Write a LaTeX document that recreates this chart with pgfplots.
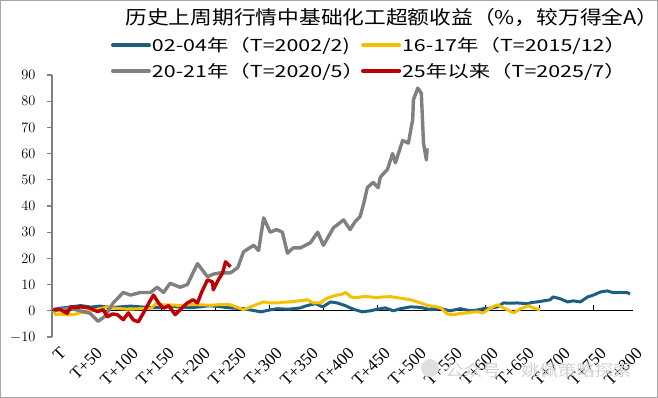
\documentclass[border=0pt]{standalone}
\usepackage{pgfplots}
\pgfplotsset{compat=1.18}
\usepackage{fontspec}
\setmainfont{Liberation Sans}[FakeStretch=1.15]
\newfontfamily\cjk{Noto Sans CJK SC}[FakeStretch=1.15]
\newfontfamily\cjkleg{Noto Sans CJK SC}[FakeStretch=1.3]
\newfontfamily\serif{Liberation Serif}
\definecolor{cblue}{RGB}{28,95,128}
\definecolor{cyellow}{RGB}{246,192,0}
\definecolor{cgray}{RGB}{128,128,128}
\definecolor{cred}{RGB}{192,0,0}
\begin{document}
\begin{tikzpicture}[x=1pt,y=1pt]
\begin{axis}[at={(52pt,61pt)}, anchor=south west, scale only axis,
  width=581pt, height=262pt,
  xmin=-2, xmax=805, ymin=-10, ymax=90,
  axis y line*=left, axis x line*=bottom,
  x axis line style={draw=none},
  y axis line style={cgray, line width=1.3pt, -},
  ytick={-10,0,...,90},
  xtick={0,50,...,800},
  xticklabels={T,T+50,T+100,T+150,T+200,T+250,T+300,T+350,T+400,T+450,T+500,T+550,T+600,T+650,T+700,T+750,T+800},
  major x tick style={draw=none},
  major y tick style={cgray, line width=1.1pt},
  tick align=outside, major tick length=5pt,
  yticklabel style={font=\fontsize{14}{14}\selectfont, xshift=-8pt},
  xticklabel style={rotate=45, anchor=north east, font=\serif\fontsize{17}{17}\selectfont, inner sep=1pt, xshift=2pt, yshift=-6pt},
  legend columns=2,
  legend cell align=left,
  legend image code/.code={\draw[line width=4pt, line cap=round] (0pt,0pt) -- (36pt,0pt);},
  legend style={at={(0.096,1.155)}, anchor=north west, draw=none, fill=none,
    font=\cjkleg\fontsize{16.5}{17}\selectfont, row sep=8pt,
    nodes={inner sep=1pt},
    /tikz/every even column/.append style={column sep=-4pt}},
]
\draw[black, line width=0.6pt] (axis cs:-2,0) -- (axis cs:805,0);
\pgfplotsinvokeforeach{75,150,...,750}{\draw[black, line width=0.6pt] (axis cs:#1,0) -- (axis cs:#1,2.3);}
\addplot[cblue, line width=3pt, line join=round] coordinates {
(0,0.5) (10,1) (24,1.5) (38,2) (52,1.4) (65,1.8) (80,1.2) (93,1.5) (107,1.8) (121,1.5) (135,1.2) (149,1.2) (162,1.6) (176,1.5) (190,1.2) (204,1.5) (215,1.9) (225,1.8) (236,1.4) (246,1.1) (264,0.8) (276,0.2) (288,-0.4) (300,0.3) (311,0.8) (326,0.6) (343,1.1) (350,1.8) (357,2.3) (364,2.7) (374,1.5) (385,3.4) (394,3) (406,1.9) (413,1.0) (419,0.4) (429,-0.4) (440,0) (450,0.6) (461,1.1) (472,0) (482,0.8) (496,1.5) (510,1.3) (524,0.4) (538,0.8) (551,0) (565,0.8) (579,0) (589,0.3) (597,0.8) (607,1.0) (617,1.5) (625,3) (635,2.9) (644,3) (658,2.7) (665,3.2) (672,3.4) (681,3.8) (690,4.2) (694,5.3) (704,4.6) (714,3.4) (722,3.8) (732,3.4) (742,5.3) (750,6) (760,7.2) (769,7.6) (778,6.9) (788,7) (797,6.9) (801,6.5)
};
\addlegendentry{02-04年（T=2002/2)}
\addplot[cyellow, line width=3pt, line join=round] coordinates {
(0,0) (3,-1.5) (10,-1.2) (17,-1.5) (28,-1.5) (36,-0.8) (44,-0.5) (55,0.2) (65,0.8) (75,1.5) (85,1.0) (93,0.8) (105,0.6) (120,0.8) (135,0.8) (142,2.7) (152,2.2) (162,2.3) (176,2.0) (190,2.4) (204,2.3) (218,2.1) (232,2.4) (246,2.3) (256,1.2) (264,0.4) (274,1.5) (283,2.5) (292,3.4) (301,3.0) (311,3) (320,3.3) (329,3.4) (341,3.8) (353,4.2) (361,3) (371,3) (378,4.5) (385,5.3) (394,6) (400,6.2) (406,7) (413,5.3) (422,5) (431,5.5) (440,5.3) (449,5.0) (458,5.3) (468,5.4) (478,5) (487,4.6) (496,4.2) (503,3.6) (510,3) (517,2.3) (524,1.8) (531,1.6) (538,1.1) (547,-1.2) (556,-1.5) (565,-1.0) (575,-0.8) (582,-0.5) (589,-0.4) (597,-0.8) (607,1.1) (617,2.3) (625,1.1) (632,0.2) (639,-0.8) (649,0.8) (660,1.9) (669,0.8) (676,0.4)
};
\addlegendentry{16-17年（T=2015/12）}
\addplot[cgray, line width=3.4pt, line join=round] coordinates {
(0,0) (8,0.5) (22,1) (37,0) (51,-1) (62,-4) (72,-2) (83,3) (97,7) (107,6) (121,7) (135,7) (144,9) (153,7) (162,10.5) (176,9) (186,10) (200,18) (214,13) (222,14) (232,14.5) (246,14.5) (256,16.5) (264,22.5) (278,25) (285,23) (292,35.5) (301,30) (310,31) (318,30) (325,22) (333,24) (343,24) (357,26) (367,30) (375,25) (389,31.7) (403,34.7) (412,31) (419,34) (426,36) (431,41) (436,47) (444,49) (451,47) (454,51) (464,54) (471,60) (475,56.5) (485,65) (493,64) (499,73) (500,80.5) (506,85) (511,83) (514,64) (518,57.6) (519,62)
};
\addlegendentry{20-21年（T=2020/5）}
\addplot[cred, line width=3.4pt, line join=round] coordinates {
(0,0.5) (10,0.4) (19,-1) (24,1.5) (31,1.2) (38,1.5) (51,1) (61,-0.3) (69,0.4) (75,-2.3) (82,-1.2) (89,-1.5) (97,-3.4) (104,-0.8) (111,-3.5) (118,-4.2) (125,-0.8) (135,4.2) (139,6) (146,3) (153,1) (160,2) (169,-1.5) (176,0.4) (186,3) (194,4.2) (200,3) (206,7.2) (214,11.8) (221,11) (222,8) (229,11.8) (235,14.5) (239,18.7) (246,16.8)
};
\addlegendentry{25年以来（T=2025/7）}
\end{axis}
\node[font=\cjk\fontsize{18.9}{19}\selectfont] at (392,381) {历史上周期行情中基础化工超额收益（\%，较万得全A）};
\fill[gray!25] (430,30) circle (9);
\node[anchor=west, font=\cjk\fontsize{16}{16}\selectfont, text=gray!35, inner sep=0pt] at (445,28) {公众号\hspace{1.3em}姚佩策略探索};
\draw[gray!70, line width=0.8pt] (0.4,0.4) rectangle (657.6,397.6);
\pgfresetboundingbox
\path[use as bounding box] (0,0) rectangle (658,398);
\end{tikzpicture}
\end{document}
